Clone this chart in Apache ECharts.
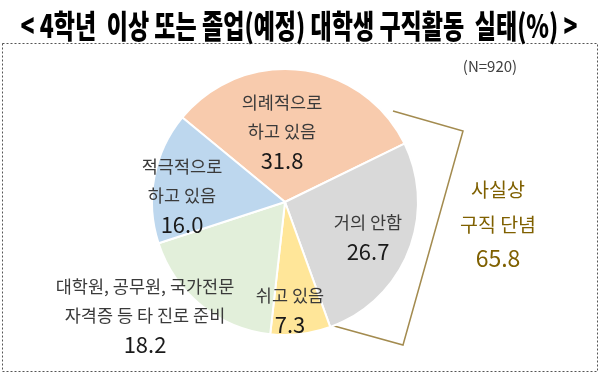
<!DOCTYPE html>
<html>
<head>
<meta charset="utf-8">
<script src="https://cdn.jsdelivr.net/npm/echarts@6/dist/echarts.min.js"></script>
<style>
html,body{margin:0;padding:0;background:#fff;}
#c{width:600px;height:375px;}
</style>
</head>
<body>
<div id="c"></div>
<script>
// ---- data ----
var titleText = '< 4학년  이상 또는 졸업(예정) 대학생 구직활동  실태(%) >';
var sampleNote = '(N=920)';
var categories = ['의례적으로\n하고 있음', '거의 안함', '쉬고 있음', '대학원, 공무원, 국가전문\n자격증 등 타 진로 준비', '적극적으로\n하고 있음'];
var values = [31.8, 26.7, 7.3, 18.2, 16.0];
var sliceColors = ['#F8CBAD', '#D9D9D9', '#FFE699', '#E2EFDA', '#BDD7EE'];
var groupLabel = ['사실상', '구직 단념'];
var groupValue = 65.8;

// ---- layout (not data) ----
var labelAt = [[282, 132], [368, 237], [290, 310], [145, 316], [182, 196]];
var FONT = '"Noto Sans CJK KR", "Noto Sans", sans-serif';

var chart = echarts.init(document.getElementById('c'), null, {renderer: 'canvas'});

var seriesData = categories.map(function (n, i) {
  return {name: n, value: values[i], itemStyle: {color: sliceColors[i]}};
});

var option = {
  backgroundColor: '#ffffff',
  animation: false,
  series: [{
    type: 'pie',
    center: [285, 202],
    radius: [0, 133],
    startAngle: 140.5,
    clockwise: true,
    data: seriesData,
    itemStyle: {borderColor: '#ffffff', borderWidth: 2},
    label: {
      show: true,
      position: 'inside',
      fontFamily: FONT,
      formatter: function (p) {
        var lines = p.name.split('\n').map(function (l) { return '{t|' + l + '}'; });
        return lines.join('\n') + '\n{v|' + p.value.toFixed(1) + '}';
      },
      rich: {
        t: {fontSize: 17.5, lineHeight: 29, color: '#3a3a3a', fontFamily: FONT},
        v: {fontSize: 22, lineHeight: 30, color: '#1a1a1a', fontFamily: FONT}
      }
    },
    labelLine: {show: false},
    labelLayout: function (p) {
      var a = labelAt[p.dataIndex];
      return {x: a[0], y: a[1], align: 'center', verticalAlign: 'middle'};
    }
  }],
  graphic: [
    {
      type: 'rect',
      shape: {x: 2.5, y: 43.5, width: 595, height: 328},
      style: {fill: 'none', stroke: '#555555', lineWidth: 1, lineDash: [2, 2]},
      silent: true
    },
    {
      type: 'text',
      x: 299, y: 26,
      scaleX: 0.72,
      style: {
        text: titleText,
        font: '900 32px ' + FONT,
        fill: '#000000',
        textAlign: 'center',
        textVerticalAlign: 'middle'
      }
    },
    {
      type: 'text',
      x: 490, y: 66,
      style: {text: sampleNote, font: '15px ' + FONT, fill: '#404040', textAlign: 'center', textVerticalAlign: 'middle'}
    },
    {
      type: 'polyline',
      shape: {points: [[393, 111], [463, 131], [403, 345], [327, 324]]},
      style: {stroke: '#A38B4F', lineWidth: 1.5, fill: 'none'},
      silent: true
    },
    {
      type: 'text',
      x: 498, y: 190,
      style: {text: groupLabel[0], font: '19.5px ' + FONT, fill: '#7F6000', textAlign: 'center', textVerticalAlign: 'middle'}
    },
    {
      type: 'text',
      x: 498, y: 225,
      style: {text: groupLabel[1], font: '19.5px ' + FONT, fill: '#7F6000', textAlign: 'center', textVerticalAlign: 'middle'}
    },
    {
      type: 'text',
      x: 498, y: 258,
      style: {text: groupValue.toFixed(1), font: '23px ' + FONT, fill: '#7F6000', textAlign: 'center', textVerticalAlign: 'middle'}
    }
  ]
};
chart.setOption(option);
</script>
</body>
</html>
